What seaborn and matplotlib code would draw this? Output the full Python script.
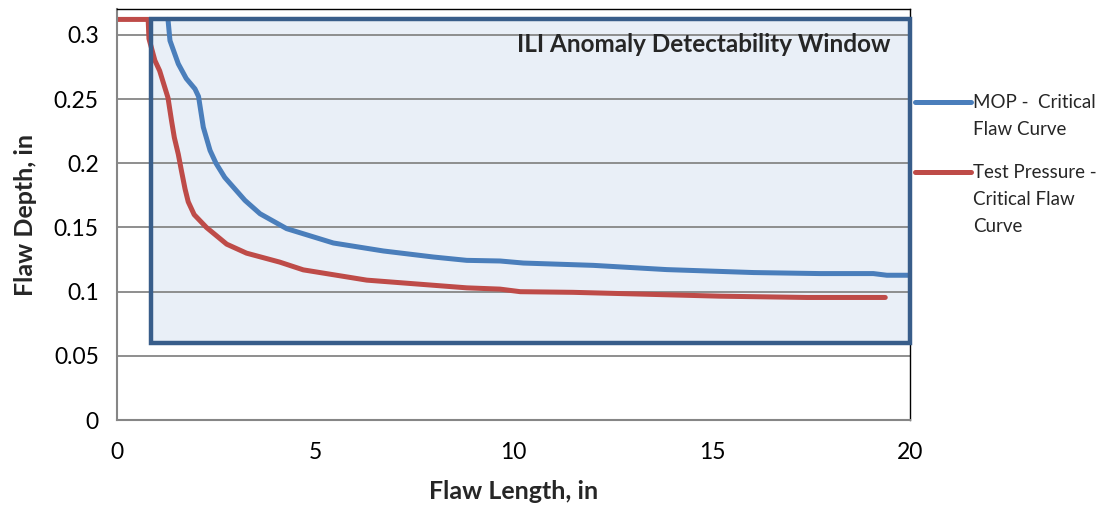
import matplotlib
matplotlib.use("Agg")
import matplotlib.pyplot as plt
import pandas as pd
import seaborn as sns
from matplotlib.patches import Rectangle
from matplotlib.lines import Line2D
from matplotlib.ticker import FuncFormatter

# Critical flaw curves
mop_length = [1.29, 1.34, 1.55, 1.75, 1.97, 2.06, 2.12, 2.18, 2.35, 2.50, 2.72, 3.23, 3.61,
              4.28, 5.46, 6.72, 7.98, 8.82, 9.66, 10.25, 12.01, 13.86, 16.05, 17.73, 19.07,
              19.41, 20.0]
mop_depth = [0.312, 0.2955, 0.2774, 0.266, 0.2579, 0.252, 0.240, 0.2281, 0.210, 0.200, 0.189,
             0.1711, 0.1607, 0.1491, 0.1379, 0.1317, 0.127, 0.1244, 0.1239, 0.1223, 0.1205,
             0.1172, 0.1149, 0.1141, 0.1141, 0.1128, 0.1128]

test_length = [0.0, 0.79, 0.81, 0.96, 1.08, 1.29, 1.38, 1.45, 1.55, 1.63, 1.72, 1.80, 1.95,
               2.26, 2.77, 3.27, 4.11, 4.70, 6.30, 7.56, 8.82, 9.66, 10.17, 11.5, 13.36,
               15.21, 17.39, 19.37]
test_depth = [0.312, 0.312, 0.297, 0.280, 0.272, 0.251, 0.233, 0.220, 0.207, 0.194, 0.180,
              0.170, 0.160, 0.150, 0.137, 0.130, 0.123, 0.117, 0.109, 0.106, 0.103, 0.102,
              0.100, 0.0995, 0.098, 0.0965, 0.0955, 0.0955]

# ILI detectability window (length range, depth range)
window_length = [0.85, 20.0]
window_depth = [0.06, 0.3125]

mop_label = "MOP -  Critical\nFlaw Curve"
test_label = "Test Pressure -\nCritical Flaw\nCurve"
window_label = "ILI Anomaly Detectability Window"

mop_df = pd.DataFrame({"length": mop_length, "depth": mop_depth})
test_df = pd.DataFrame({"length": test_length, "depth": test_depth})

sns.set_theme(style="white")
plt.rcParams["font.family"] = ["Lato", "DejaVu Sans"]

blue = "#4A7EBB"
red = "#BE4B48"
box_edge = "#385D8A"
grey = "#868686"

fig = plt.figure(figsize=(11.02, 5.08), dpi=100)
ax = fig.add_axes([0.106, 0.173, 0.720, 0.809])

# window fill under the gridlines, edge over the curves
w, h = window_length[1] - window_length[0], window_depth[1] - window_depth[0]
ax.add_patch(Rectangle((window_length[0], window_depth[0]), w, h,
                       facecolor="#E9EFF7", edgecolor="none", zorder=0.5))

sns.lineplot(data=test_df, x="length", y="depth", sort=False, estimator=None,
             color=red, lw=3.6, ax=ax, zorder=2)
sns.lineplot(data=mop_df, x="length", y="depth", sort=False, estimator=None,
             color=blue, lw=3.6, ax=ax, zorder=2)

ax.add_patch(Rectangle((window_length[0], window_depth[0]), w, h,
                       facecolor="none", edgecolor=box_edge, lw=3.2, zorder=3,
                       clip_on=False))

ax.set_xlim(0, 20)
ax.set_ylim(0, 0.32)
ax.set_xticks([0, 5, 10, 15, 20])
ax.set_yticks([0, 0.05, 0.1, 0.15, 0.2, 0.25, 0.3])
ax.yaxis.set_major_formatter(FuncFormatter(lambda v, p: f"{v:g}"))
ax.grid(axis="y", color=grey, lw=1.3)
for gl in ax.get_ygridlines():
    gl.set_zorder(1)

ax.tick_params(axis="both", direction="out", length=7, width=1.3, color=grey,
               labelsize=16.5, labelcolor="black", pad=6)
ax.tick_params(axis="x", pad=9)
for side in ["left", "bottom"]:
    ax.spines[side].set_color(grey)
    ax.spines[side].set_linewidth(1.5)
for side in ["top", "right"]:
    ax.spines[side].set_color("black")
    ax.spines[side].set_linewidth(1.0)

ax.set_xlabel("Flaw Length, in", fontsize=18, fontweight="bold", labelpad=12)
ax.set_ylabel("Flaw Depth, in", fontsize=18, fontweight="bold", labelpad=12)

ax.text(0.975, 0.915, window_label, transform=ax.transAxes, ha="right", va="center",
        fontsize=17.5, fontweight="bold", zorder=4)

# legend entries to the right of the plot
for color, label, yy in [(blue, mop_label, 0.774), (red, test_label, 0.603)]:
    ax.add_line(Line2D([1.006, 1.076], [yy, yy], transform=ax.transAxes, color=color,
                       lw=3.6, clip_on=False))
    ax.text(1.079, yy + 0.019, label, transform=ax.transAxes, ha="left", va="top",
            fontsize=13.5, linespacing=1.68)

fig.savefig("out.png", dpi=100)
